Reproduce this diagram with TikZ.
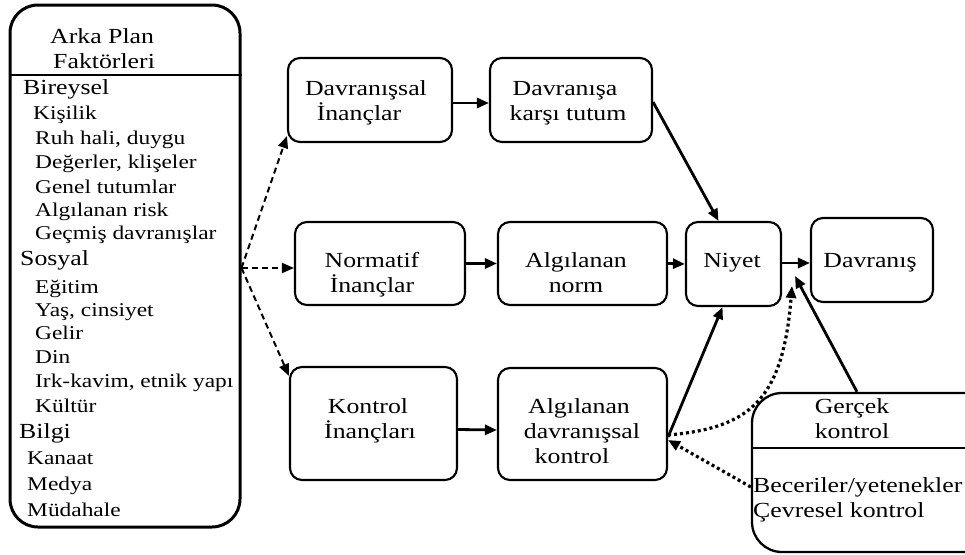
\documentclass[tikz,border=0pt]{standalone}
\usepackage{fontspec}
\setmainfont{Liberation Serif}[FakeStretch=1.2]
\usetikzlibrary{arrows.meta,calc}
\begin{document}
\begin{tikzpicture}[x=1pt,y=-1pt,
  box/.style={draw,line width=2.1pt,rounded corners=12pt,inner sep=0pt},
  lbl/.style={anchor=base,inner sep=0pt,font=\fontsize{21.5}{25}\selectfont},
  hdr/.style={anchor=base west,inner sep=0pt,font=\fontsize{21.5}{25}\selectfont},
  itm/.style={anchor=base west,inner sep=0pt,font=\fontsize{19.5}{24}\selectfont},
  arr/.style={line width=2.8pt,-{Triangle[length=12pt,width=10pt]}},
  dsh/.style={line width=2pt,dash pattern=on 6pt off 4pt,-{Triangle[length=12pt,width=10pt]}},
  dot/.style={line width=3.2pt,dash pattern=on 3pt off 3pt,-{Triangle[length=12pt,width=10pt]}},
]
\useasboundingbox (0,0) rectangle (965,554);

% background factors panel
\node[draw,line width=3pt,rounded corners=28pt,minimum width=230pt,minimum height=522pt,inner sep=0pt] (bg) at (125,266) {};
\draw[line width=2.6pt] (bg.west |- 0,75) -- (bg.east |- 0,75);
\node[hdr] (h1) at (50,43) {Arka Plan};
\node[hdr] (h2) at (53,68) {Faktörleri};
\node[hdr] (g1) at (23,94) {Bireysel};
\node[itm] (i1) at (33,119) {Kişilik};
\node[itm] (i2) at (35,144) {Ruh hali, duygu};
\node[itm] (i3) at (35,168) {Değerler, klişeler};
\node[itm] (i4) at (35,193) {Genel tutumlar};
\node[itm] (i5) at (35,216) {Algılanan risk};
\node[itm] (i6) at (35,239) {Geçmiş davranışlar};
\node[hdr] (g2) at (20,265) {Sosyal};
\node[itm] (i7) at (35,293) {Eğitim};
\node[itm] (i8) at (35,316) {Yaş, cinsiyet};
\node[itm] (i9) at (35,339) {Gelir};
\node[itm] (i10) at (35,363) {Din};
\node[itm] (i11) at (35,387) {Irk-kavim, etnik yapı};
\node[itm] (i12) at (35,412) {Kültür};
\node[hdr] (g3) at (19,438) {Bilgi};
\node[itm] (i13) at (27,464) {Kanaat};
\node[itm] (i14) at (27,490) {Medya};
\node[itm] (i15) at (27,516) {Müdahale};

% belief / evaluation boxes
\node[box,minimum width=164pt,minimum height=84pt] (db) at (370,100) {};
\node[lbl] (db1) at (366,95) {Davranışsal};
\node[lbl] (db2) at (359,120) {İnançlar};
\node[box,minimum width=162pt,minimum height=84pt] (dk) at (571,100) {};
\node[lbl] (dk1) at (565,95) {Davranışa};
\node[lbl] (dk2) at (568,120) {karşı tutum};

\node[box,minimum width=170pt,minimum height=83pt] (nb) at (380,263.5) {};
\node[lbl] (nb1) at (372,267) {Normatif};
\node[lbl] (nb2) at (372,292) {İnançlar};
\node[box,minimum width=169pt,minimum height=83pt] (an) at (582.5,263.5) {};
\node[lbl] (an1) at (576,267) {Algılanan};
\node[lbl] (an2) at (576,292) {norm};

\node[box,minimum width=167pt,minimum height=113pt] (kb) at (373.5,423.5) {};
\node[lbl] (kb1) at (368,413) {Kontrol};
\node[lbl] (kb2) at (370,438) {İnançları};
\node[box,minimum width=169pt,minimum height=112pt] (adk) at (582.5,424) {};
\node[lbl] (adk1) at (579,413) {Algılanan};
\node[lbl] (adk2) at (582,438) {davranışsal};
\node[lbl] (adk3) at (572,463) {kontrol};

\node[box,minimum width=95pt,minimum height=84pt] (ny) at (733.5,264) {};
\node[lbl] (ny1) at (732,267) {Niyet};
\node[box,minimum width=122pt,minimum height=84pt] (dv) at (872,260) {};
\node[lbl] (dv1) at (870,267) {Davranış};

% actual control panel, running past the right edge
\begin{scope}
  \clip (0,0) rectangle (965,554);
  \node[draw,line width=2.3pt,rounded corners=30pt,minimum width=260pt,minimum height=159pt,inner sep=0pt] (gk) at (882,472.5) {};
  \draw[line width=2.6pt] (gk.west |- 0,448) -- (gk.east |- 0,448);
\end{scope}
\node[lbl] (gk1) at (852,413) {Gerçek};
\node[lbl] (gk2) at (852,438) {kontrol};
\node[hdr] (gk3) at (753,492) {Beceriler/yetenekler};
\node[hdr] (gk4) at (753,517) {Çevresel kontrol};

% connectors
\coordinate (fan) at (bg.east |- 0,268);
\draw[dsh] (fan) -- ([yshift=7pt]db.south west);
\draw[dsh] (fan) -- (fan -| nb.west);
\draw[dsh] (fan) -- ([yshift=-10pt]kb.north west);

\draw[arr] ([yshift=-3pt]db.east) -- ([yshift=-3pt]dk.west);
\draw[arr] (nb.east) -- (an.west);
\draw[arr] ([yshift=-6pt]kb.east) -- ([yshift=-6pt]adk.west);

\draw[arr] ([yshift=-2pt]dk.east) -- ([xshift=-15pt]ny.north);
\draw[arr] (an.east) -- (ny.west);
\draw[arr] ([yshift=-13pt]adk.east) -- ([xshift=-11pt]ny.south);
\draw[arr] ([yshift=1pt]ny.east) -- ([yshift=1pt]ny.east -| dv.west);

\coordinate (tA) at (795,276);
\coordinate (tB) at (792,286);
\draw[arr] ([xshift=-25pt]gk.north) -- (tA);
\draw[dot] ([yshift=-11pt]adk.east) .. controls (750,428) and (783,400) .. (tB);
\draw[dot] ([yshift=-14.5pt]gk.west) -- ([yshift=-16pt]adk.east);
\end{tikzpicture}
\end{document}
